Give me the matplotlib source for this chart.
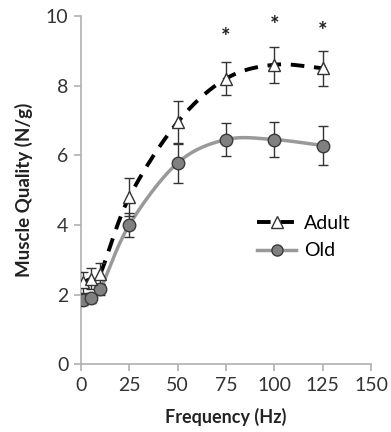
import numpy as np
import matplotlib
matplotlib.use("Agg")
import matplotlib.pyplot as plt
from matplotlib.lines import Line2D

plt.rcParams["font.family"] = ["Lato", "DejaVu Sans"]

# data
freq = [1, 5, 10, 25, 50, 75, 100, 125]
adult = [2.35, 2.45, 2.6, 4.8, 6.95, 8.2, 8.6, 8.5]
adult_err = [0.3, 0.3, 0.3, 0.55, 0.62, 0.47, 0.52, 0.5]
old = [1.85, 1.9, 2.15, 4.0, 5.78, 6.45, 6.45, 6.28]
old_err = [0.15, 0.15, 0.15, 0.35, 0.57, 0.48, 0.5, 0.56]
star_x = [75, 100, 125]
star_y = [9.45, 9.78, 9.62]


def smooth(x, y, n=30):
    # Catmull-Rom style curve, like Excel's "smoothed line"
    x = np.asarray(x, float)
    y = np.asarray(y, float)
    px = np.concatenate([[2 * x[0] - x[1]], x, [2 * x[-1] - x[-2]]])
    py = np.concatenate([[2 * y[0] - y[1]], y, [2 * y[-1] - y[-2]]])
    xs, ys = [], []
    t = np.linspace(0, 1, n)
    for i in range(1, len(px) - 2):
        for p, out in ((px, xs), (py, ys)):
            p0, p1, p2, p3 = p[i - 1], p[i], p[i + 1], p[i + 2]
            out.extend(0.5 * ((2 * p1) + (-p0 + p2) * t
                              + (2 * p0 - 5 * p1 + 4 * p2 - p3) * t ** 2
                              + (-p0 + 3 * p1 - 3 * p2 + p3) * t ** 3))
    return xs, ys


fig = plt.figure(figsize=(3.91, 4.32), dpi=100)
ax = fig.add_axes([0.207, 0.157, 0.742, 0.806])

sx, sy = smooth(freq, old)
ax.plot(sx, sy, color="#999999", lw=2.5, zorder=2)
ax.errorbar(freq, old, yerr=old_err, fmt="none", ecolor="#333333",
            elinewidth=1, capsize=3.5, capthick=1, zorder=3)
ax.plot(freq, old, "o", ms=9, mfc="#808080", mec="#3a3a3a", mew=1, zorder=4)

sx, sy = smooth(freq, adult)
ax.plot(sx, sy, color="black", lw=2.8, ls=(0, (3.5, 2.5)), zorder=2)
ax.errorbar(freq, adult, yerr=adult_err, fmt="none", ecolor="#333333",
            elinewidth=1, capsize=3.5, capthick=1, zorder=3)
ax.plot(freq, adult, "^", ms=9, mfc="white", mec="#333333", mew=1, zorder=4)

for x, y in zip(star_x, star_y):
    ax.text(x, y, "*", ha="center", va="center_baseline", fontsize=16,
            fontweight="bold", color="#222222")

ax.set_xlim(0, 150)
ax.set_ylim(0, 10)
ax.set_xticks([0, 25, 50, 75, 100, 125, 150])
ax.set_yticks([0, 2, 4, 6, 8, 10])
for s in ["top", "right"]:
    ax.spines[s].set_visible(False)
for s in ["left", "bottom"]:
    ax.spines[s].set_color("#b0b0b0")
    ax.spines[s].set_linewidth(1.2)
ax.tick_params(colors="#b0b0b0", labelcolor="#333333", labelsize=14,
               length=5, width=1.2, pad=4)

ax.set_xlabel("Frequency (Hz)", fontsize=13, fontweight="bold", labelpad=10,
              color="#222222")
ax.set_ylabel("Muscle Quality (N/g)", fontsize=13.5, fontweight="bold",
              labelpad=9, color="#222222")

handles = [
    Line2D([], [], color="black", lw=2.8, ls=(0, (3.5, 2.5)), marker="^",
           ms=8, mfc="white", mec="#333333"),
    Line2D([], [], color="#999999", lw=2.5, marker="o", ms=8,
           mfc="#808080", mec="#3a3a3a"),
]
ax.legend(handles, ["Adult", "Old"], loc="center left",
          bbox_to_anchor=(0.548, 0.365), frameon=False, fontsize=14,
          handlelength=2.0, handletextpad=0.4, labelspacing=0.55)

fig.savefig("out.png", dpi=100)
